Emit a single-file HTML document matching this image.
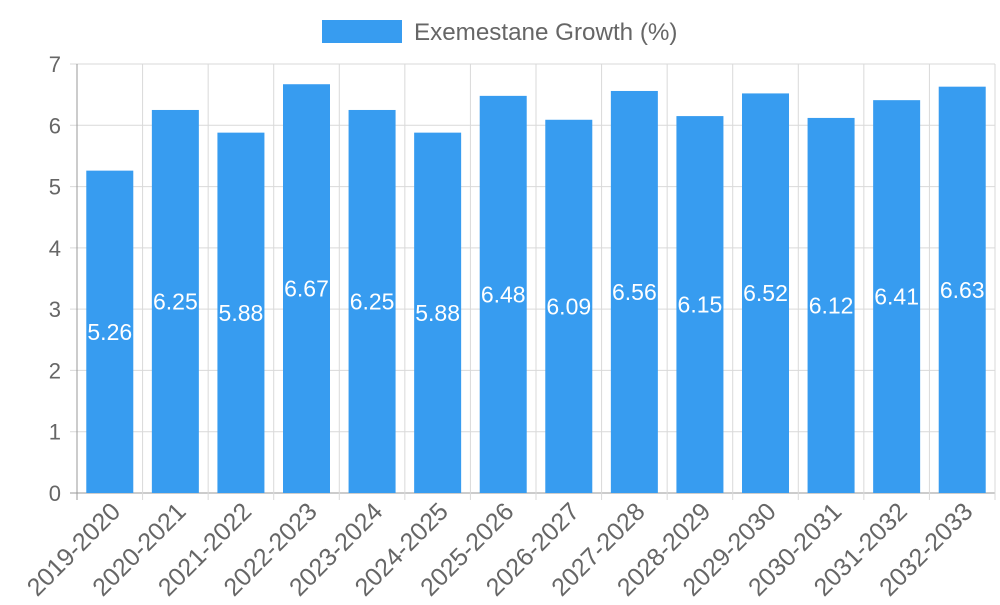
<!DOCTYPE html>
<html><head><meta charset="utf-8"><style>
html,body{margin:0;padding:0;background:#fff}
svg text{font-family:"Liberation Sans",sans-serif}
</style></head><body>
<svg id="chart" width="1000" height="600" xmlns="http://www.w3.org/2000/svg">
<g>
<rect x="322" y="20" width="80" height="23" fill="#379cf0"/>
<text x="414" y="40" font-size="24.2" fill="#666">Exemestane Growth (%)</text>
</g>
<g id="grid"></g><g id="bars"></g><g id="labels"></g>
</svg>
<script>
const categories=["2019-2020","2020-2021","2021-2022","2022-2023","2023-2024","2024-2025","2025-2026","2026-2027","2027-2028","2028-2029","2029-2030","2030-2031","2031-2032","2032-2033"];
const values=[5.26,6.25,5.88,6.67,6.25,5.88,6.48,6.09,6.56,6.15,6.52,6.12,6.41,6.63];
const yTicks=[0,1,2,3,4,5,6,7];
const NS="http://www.w3.org/2000/svg";
const L=77,R=995,T=64,B=493,yMax=7;
const bw=(R-L)/categories.length;
const y=v=>B-(v/yMax)*(B-T);
const x=i=>L+bw*i;
function mk(tag,attrs,parent,txt){const e=document.createElementNS(NS,tag);for(const k in attrs)e.setAttribute(k,attrs[k]);if(txt!==undefined)e.textContent=txt;parent.appendChild(e);return e;}
const g=document.getElementById('grid'),gb=document.getElementById('bars'),gl=document.getElementById('labels');
yTicks.forEach(t=>{
 const ln=mk('line',{x1:L-7,x2:R,y1:y(t),y2:y(t),stroke:t===0?'#999':'#d9d9d9','stroke-width':1},g);
 
 
 const tx=mk('text',{x:L-16,y:y(t)+8,'font-size':22,fill:'#666','text-anchor':'end'},g,t);
 
 
});
for(let i=0;i<=categories.length;i++){
 const ln=mk('line',{x1:x(i),x2:x(i),y1:T,y2:B+7,stroke:i===0?'#999':'#d9d9d9','stroke-width':1},g);
 
 
}
categories.forEach((c,i)=>{
 const cx=x(i)+bw/2,v=values[i];
 const r=mk('rect',{x:cx-23.5,y:y(v),width:47,height:B-y(v),fill:'#379cf0'},gb);
 
 
 const vt=mk('text',{x:cx,y:(y(v)+B)/2+8,'font-size':23,fill:'#fff','text-anchor':'middle'},gl,v.toFixed(2));
 
 
 const xt=mk('text',{x:cx+12,y:513,'font-size':25,fill:'#666','text-anchor':'end',transform:`rotate(-45 ${cx+12} 513)`},gl,c);
 
 
});
</script>
</body></html>
